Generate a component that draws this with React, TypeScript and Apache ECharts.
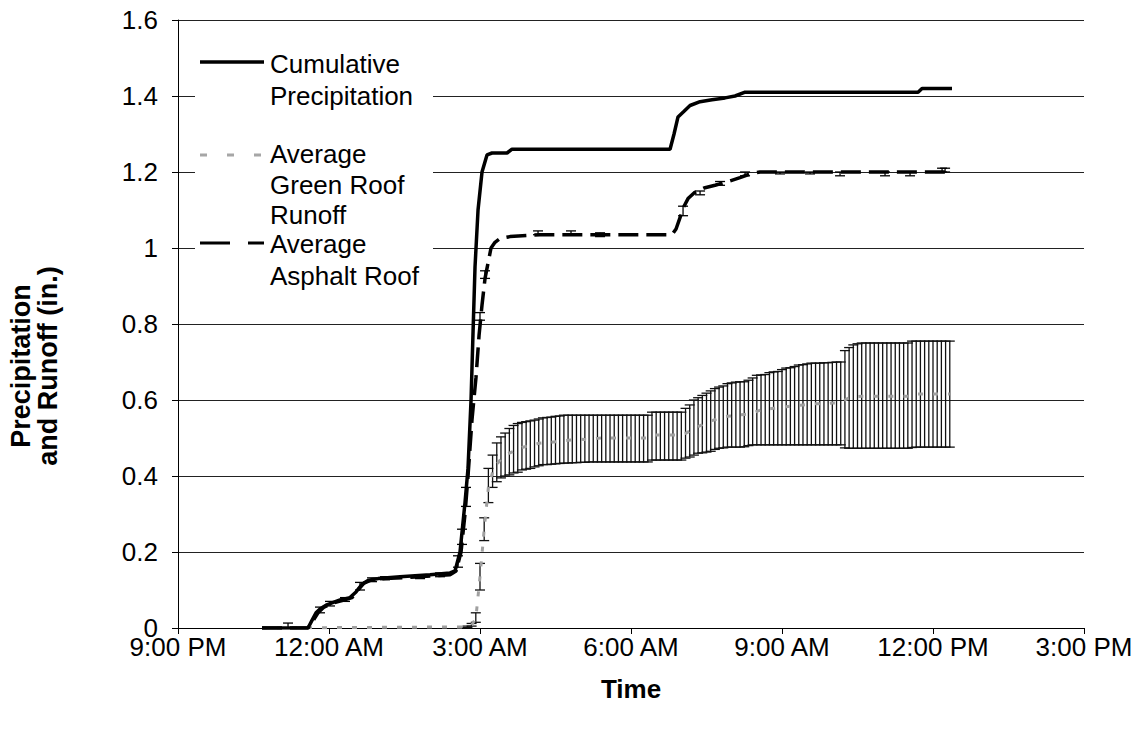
import React, { useEffect, useRef } from "react";
import * as echarts from "echarts";

// ---- Axis tick labels ----
const xTickLabels = ["9:00 PM", "12:00 AM", "3:00 AM", "6:00 AM", "9:00 AM", "12:00 PM", "3:00 PM"];

// ---- Cumulative precipitation (hours after 9:00 PM, inches) ----
const precipHours = [
  1.669, 2.583, 2.662, 2.742, 2.821, 2.941, 3.06, 3.219, 3.417, 3.537, 3.656, 3.775, 3.974, 4.411,
  5.007, 5.404, 5.504, 5.603, 5.702, 5.762, 5.822, 5.862, 5.901, 5.961, 6.04, 6.139, 6.239, 6.537,
  6.636, 9.776, 9.855, 9.934, 10.054, 10.173, 10.372, 10.61, 10.868, 11.067, 11.266, 14.703, 14.782,
  15.378,
];
const precipValues = [
  0, 0, 0.02, 0.04, 0.05, 0.06, 0.066, 0.074, 0.08, 0.095, 0.115, 0.125, 0.13, 0.135,
  0.14, 0.145, 0.15, 0.2, 0.33, 0.42, 0.6, 0.78, 0.95, 1.1, 1.2, 1.245, 1.25, 1.25,
  1.26, 1.26, 1.3, 1.345, 1.36, 1.375, 1.385, 1.39, 1.395, 1.4, 1.41, 1.41, 1.42,
  1.42,
];

// ---- Average asphalt roof runoff ----
const asphaltHours = [
  1.669, 2.583, 2.662, 2.782, 2.901, 3.06, 3.258, 3.457, 3.576, 3.696, 3.855, 4.113, 4.808, 5.404,
  5.524, 5.623, 5.702, 5.762, 5.842, 5.921, 5.981, 6.04, 6.1, 6.159, 6.219, 6.298, 6.398, 6.596,
  7.193, 9.815, 9.895, 9.974, 10.054, 10.133, 10.253, 10.451, 10.67, 10.928, 11.166, 11.365, 11.564,
  15.378,
];
const asphaltValues = [
  0, 0, 0.015, 0.04, 0.055, 0.065, 0.072, 0.08, 0.1, 0.118, 0.127, 0.13, 0.135, 0.14,
  0.15, 0.2, 0.3, 0.4, 0.55, 0.66, 0.77, 0.85, 0.92, 0.96, 1.0, 1.015, 1.025, 1.03,
  1.035, 1.035, 1.05, 1.08, 1.11, 1.13, 1.145, 1.158, 1.165, 1.175, 1.185, 1.195, 1.2,
  1.2,
];
// visible asphalt error bars
const asphaltErrHours = [
  2.186, 2.821, 3.02, 3.318, 3.616, 3.855, 4.113, 4.808, 5.206, 5.563, 5.643, 5.722,
  6.0, 6.1, 7.153, 7.808, 8.385, 10.034, 10.372, 10.769, 11.266, 11.96, 12.557, 13.153, 14.047, 14.544, 15.18, 15.24,
];
const asphaltErrLow = [
  0, 0.04, 0.058, 0.07, 0.1, 0.122, 0.127, 0.13, 0.135, 0.16, 0.22, 0.32,
  0.81, 0.92, 1.035, 1.035, 1.03, 1.085, 1.14, 1.165, 1.19, 1.195, 1.195, 1.19, 1.19, 1.19, 1.2, 1.2,
];
const asphaltErrHigh = [
  0.013, 0.055, 0.07, 0.08, 0.12, 0.132, 0.135, 0.14, 0.145, 0.19, 0.26, 0.37,
  0.83, 0.94, 1.045, 1.045, 1.04, 1.11, 1.15, 1.175, 1.2, 1.2, 1.2, 1.2, 1.2, 1.2, 1.21, 1.21,
];

// ---- Average green roof runoff (5-minute readings from 2:45 AM) ----
const greenZeroFromHour = 1.669;
const greenStartHour = 5.75;
const greenStepHours = 5 / 60;
const greenMean = [
  0.003, 0.008, 0.025, 0.135, 0.26, 0.37, 0.41, 0.43, 0.445, 0.455,
  0.46, 0.465, 0.47, 0.475, 0.478, 0.48, 0.483, 0.486, 0.487, 0.488,
  0.489, 0.49, 0.492, 0.493, 0.494, 0.495, 0.496, 0.497, 0.496, 0.495,
  0.497, 0.499, 0.5, 0.5, 0.5, 0.5, 0.5, 0.5, 0.5, 0.5,
  0.5, 0.5, 0.5, 0.5, 0.508, 0.508, 0.508, 0.508, 0.508, 0.508,
  0.508, 0.508, 0.512, 0.518, 0.525, 0.53, 0.535, 0.54, 0.545, 0.548,
  0.552, 0.555, 0.557, 0.558, 0.56, 0.561, 0.562, 0.563, 0.566, 0.57,
  0.574, 0.576, 0.577, 0.578, 0.579, 0.58, 0.582, 0.584, 0.585, 0.586,
  0.587, 0.588, 0.589, 0.59, 0.59, 0.591, 0.591, 0.592, 0.592, 0.593,
  0.6, 0.606, 0.608, 0.609, 0.61, 0.61, 0.61, 0.61, 0.61, 0.61,
  0.61, 0.61, 0.61, 0.61, 0.61, 0.61, 0.612, 0.616, 0.616, 0.616,
  0.616, 0.616, 0.616, 0.616, 0.616, 0.616,
];
const greenLow = [
  0.001, 0.005, 0.015, 0.1, 0.23, 0.33, 0.37, 0.385, 0.395, 0.4,
  0.403, 0.408, 0.41, 0.416, 0.418, 0.42, 0.424, 0.427, 0.43, 0.43,
  0.431, 0.432, 0.433, 0.434, 0.434, 0.435, 0.435, 0.436, 0.436, 0.437,
  0.437, 0.437, 0.437, 0.437, 0.437, 0.437, 0.437, 0.437, 0.437, 0.437,
  0.437, 0.437, 0.437, 0.437, 0.442, 0.442, 0.442, 0.442, 0.442, 0.442,
  0.442, 0.442, 0.447, 0.45, 0.455, 0.46, 0.461, 0.463, 0.465, 0.47,
  0.473, 0.474, 0.476, 0.476, 0.476, 0.476, 0.477, 0.48, 0.482, 0.482,
  0.482, 0.482, 0.482, 0.482, 0.482, 0.482, 0.482, 0.482, 0.482, 0.482,
  0.482, 0.482, 0.482, 0.482, 0.482, 0.482, 0.482, 0.482, 0.482, 0.482,
  0.474, 0.473, 0.473, 0.473, 0.473, 0.473, 0.473, 0.473, 0.473, 0.473,
  0.473, 0.473, 0.473, 0.473, 0.473, 0.473, 0.475, 0.476, 0.476, 0.476,
  0.476, 0.476, 0.476, 0.476, 0.476, 0.476,
];
const greenHigh = [
  0.005, 0.012, 0.04, 0.17, 0.29, 0.42, 0.455, 0.487, 0.503, 0.513,
  0.525, 0.533, 0.538, 0.541, 0.543, 0.545, 0.547, 0.55, 0.553, 0.554,
  0.555, 0.557, 0.558, 0.56, 0.56, 0.56, 0.56, 0.56, 0.56, 0.56,
  0.56, 0.56, 0.56, 0.56, 0.56, 0.56, 0.56, 0.56, 0.56, 0.56,
  0.56, 0.56, 0.56, 0.56, 0.568, 0.568, 0.568, 0.568, 0.568, 0.568,
  0.568, 0.568, 0.578, 0.587, 0.6, 0.606, 0.612, 0.618, 0.624, 0.63,
  0.634, 0.637, 0.643, 0.645, 0.647, 0.648, 0.648, 0.652, 0.658, 0.665,
  0.666, 0.667, 0.672, 0.674, 0.675, 0.68, 0.684, 0.685, 0.688, 0.692,
  0.693, 0.695, 0.697, 0.697, 0.697, 0.698, 0.698, 0.699, 0.7, 0.7,
  0.73, 0.738, 0.745, 0.748, 0.75, 0.75, 0.75, 0.75, 0.75, 0.75,
  0.75, 0.75, 0.75, 0.75, 0.75, 0.75, 0.755, 0.755, 0.755, 0.755,
  0.755, 0.755, 0.755, 0.755, 0.755, 0.755,
];

const FONT = "'Liberation Sans', Arial, sans-serif";

function errorBarRender(color: string, capHalf: number, width: number) {
  return (params: any, api: any) => {
    const x = api.value(0);
    const lo = api.coord([x, api.value(1)]);
    const hi = api.coord([x, api.value(2)]);
    const style = { stroke: color, lineWidth: width };
    return {
      type: "group",
      children: [
        { type: "line", shape: { x1: lo[0], y1: lo[1], x2: hi[0], y2: hi[1] }, style },
        { type: "line", shape: { x1: lo[0] - capHalf, y1: lo[1], x2: lo[0] + capHalf, y2: lo[1] }, style },
        { type: "line", shape: { x1: hi[0] - capHalf, y1: hi[1], x2: hi[0] + capHalf, y2: hi[1] }, style },
      ],
    };
  };
}

export default function App() {
  const ref = useRef<HTMLDivElement>(null);

  useEffect(() => {
    if (!ref.current) return;
    const chart = echarts.init(ref.current, null, { renderer: "svg" });

    const greenHours = greenMean.map((_, i) => greenStartHour + i * greenStepHours);
    const greenLine = [[greenZeroFromHour, 0], ...greenMean.map((v, i) => [greenHours[i], v])];
    const greenErr = greenMean.map((_, i) => [greenHours[i], greenLow[i], greenHigh[i]]);
    const asphaltLine = asphaltHours.map((h, i) => [h, asphaltValues[i]]);
    const asphaltErr = asphaltErrHours.map((h, i) => [h, asphaltErrLow[i], asphaltErrHigh[i]]);
    const precipLine = precipHours.map((h, i) => [h, precipValues[i]]);

    const legendText = (x: number, y: number, text: string) => ({
      type: "text",
      x,
      y,
      z: 101,
      style: { text, font: `26px ${FONT}`, fill: "#000", textAlign: "left", textVerticalAlign: "middle" },
    });

    chart.setOption({
      animation: false,
      backgroundColor: "#ffffff",
      grid: { left: 178, right: 59, top: 20, bottom: 103, containLabel: false },
      xAxis: {
        type: "value",
        min: 0,
        max: 18,
        interval: 3,
        name: "Time",
        nameLocation: "middle",
        nameGap: 48,
        nameTextStyle: { fontFamily: FONT, fontSize: 26, fontWeight: "bold", color: "#000" },
        axisLine: { show: true, lineStyle: { color: "#000", width: 1 } },
        axisTick: { show: true, length: 6, lineStyle: { color: "#000" } },
        axisLabel: {
          margin: 9,
          lineHeight: 20,
          fontFamily: FONT,
          fontSize: 26,
          color: "#000",
          formatter: (v: number) => xTickLabels[Math.round(v / 3)] ?? "",
        },
        splitLine: { show: false },
      },
      yAxis: {
        type: "value",
        min: 0,
        max: 1.6,
        interval: 0.2,
        axisLine: { show: true, lineStyle: { color: "#000", width: 1 } },
        axisTick: { show: true, length: 6, lineStyle: { color: "#000" } },
        axisLabel: {
          margin: 20,
          lineHeight: 18,
          fontFamily: FONT,
          fontSize: 26,
          color: "#000",
          formatter: (v: number) => String(parseFloat(v.toFixed(1))),
        },
        splitLine: { show: true, lineStyle: { color: "#222", width: 1 } },
      },
      graphic: [
        {
          type: "text",
          x: 34,
          y: 366,
          rotation: Math.PI / 2,
          style: {
            text: "Precipitation\nand Runoff (in.)",
            font: `bold 27px ${FONT}`,
            lineHeight: 27,
            fill: "#000",
            textAlign: "center",
            textVerticalAlign: "middle",
          },
        },
        { type: "rect", shape: { x: 195, y: 32, width: 238, height: 266 }, style: { fill: "#fff" }, z: 100 },
        { type: "line", shape: { x1: 200, y1: 62, x2: 264, y2: 62 }, style: { stroke: "#000", lineWidth: 3.5 }, z: 101 },
        {
          type: "line",
          shape: { x1: 200, y1: 155, x2: 264, y2: 155 },
          style: { stroke: "#a6a6a6", lineWidth: 3, lineDash: [7, 20] },
          z: 101,
        },
        {
          type: "line",
          shape: { x1: 200, y1: 243, x2: 264, y2: 243 },
          style: { stroke: "#000", lineWidth: 3, lineDash: [30, 18] },
          z: 101,
        },
        legendText(270, 64, "Cumulative"),
        legendText(270, 96, "Precipitation"),
        legendText(270, 154, "Average"),
        legendText(270, 185, "Green Roof"),
        legendText(270, 215, "Runoff"),
        legendText(270, 244, "Average"),
        legendText(270, 276, "Asphalt Roof"),
      ],
      series: [
        {
          name: "Green Roof Error",
          type: "custom",
          renderItem: errorBarRender("#111", 5, 1.3),
          data: greenErr,
          encode: { x: 0, y: [1, 2] },
          z: 2,
          silent: true,
        },
        {
          name: "Average Green Roof Runoff",
          type: "line",
          data: greenLine,
          showSymbol: false,
          symbol: "none",
          lineStyle: { color: "#a0a0a0", width: 3, type: [5, 10] },
          z: 3,
        },
        {
          name: "Asphalt Error",
          type: "custom",
          renderItem: errorBarRender("#000", 5, 1.3),
          data: asphaltErr,
          encode: { x: 0, y: [1, 2] },
          z: 4,
          silent: true,
        },
        {
          name: "Average Asphalt Roof",
          type: "line",
          data: asphaltLine,
          showSymbol: false,
          symbol: "none",
          lineStyle: { color: "#000", width: 3.5, type: [20, 8] },
          z: 5,
        },
        {
          name: "Cumulative Precipitation",
          type: "line",
          data: precipLine,
          showSymbol: false,
          symbol: "none",
          lineStyle: { color: "#000", width: 3.5 },
          z: 6,
        },
      ],
    });

    return () => chart.dispose();
  }, []);

  return (
    <div
      ref={ref}
      style={{ position: "absolute", left: 0, top: 0, width: 1143, height: 731, background: "#fff" }}
    />
  );
}
